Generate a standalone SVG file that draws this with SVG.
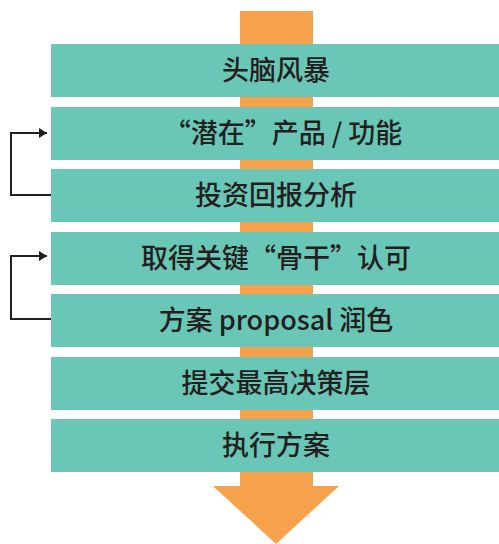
<svg xmlns="http://www.w3.org/2000/svg" width="499" height="544" viewBox="0 0 499 544">
<style>
.bar{fill:#6AC7B7}
.t{font-family:"Noto Sans CJK SC","Noto Sans",sans-serif;font-size:27px;font-weight:500;fill:#231F20;text-anchor:middle}
.c{fill:none;stroke:#231F20;stroke-width:2}
</style>
<defs>
<marker id="ah" markerWidth="8" markerHeight="10" refX="8" refY="5" orient="auto" markerUnits="userSpaceOnUse">
<path d="M0,0 L8,5 L0,10 Z" fill="#231F20"/>
</marker>
</defs>
<g id="flow-arrow">
<path d="M240,11 H313 V486 H339 L276,544 L213,486 H240 Z" fill="#F6A14B"/>
</g>
<g id="n1"><rect class="bar" x="51" y="44" width="448" height="53"/><text class="t" x="276" y="80">头脑风暴</text></g>
<g id="n2"><rect class="bar" x="51" y="107" width="448" height="53"/><text class="t" x="283" y="143">“潜在”产品 / 功能</text></g>
<g id="n3"><rect class="bar" x="51" y="169" width="448" height="53"/><text class="t" x="276" y="205">投资回报分析</text></g>
<g id="n4"><rect class="bar" x="51" y="232" width="448" height="53"/><text class="t" x="276" y="268">取得关键“骨干”认可</text></g>
<g id="n5"><rect class="bar" x="51" y="294" width="448" height="53"/><text class="t" x="276" y="330">方案 proposal 润色</text></g>
<g id="n6"><rect class="bar" x="51" y="357" width="448" height="53"/><text class="t" x="276" y="393">提交最高决策层</text></g>
<g id="n7"><rect class="bar" x="51" y="419" width="448" height="53"/><text class="t" x="276" y="455">执行方案</text></g>
<g id="connectors">
<path class="c" d="M51,195 H11 V133 H47" marker-end="url(#ah)"/>
<path class="c" d="M51,319 H11 V256 H47" marker-end="url(#ah)"/>
</g>
</svg>
